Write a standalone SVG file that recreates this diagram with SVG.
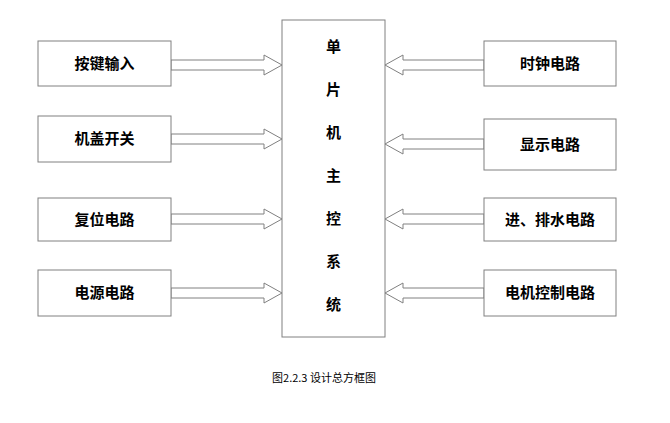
<svg xmlns="http://www.w3.org/2000/svg" width="670" height="423" viewBox="0 0 670 423">
<style>
.b{fill:#fff;stroke:#808080;stroke-width:1}
.t{font-family:"Noto Sans CJK SC",sans-serif;font-size:15px;fill:#000;text-anchor:middle;font-weight:bold}
.a{fill:#fff;stroke:#808080;stroke-width:1}
</style>
<rect width="670" height="423" fill="#fff"/>
<g id="connectors">
<path class="a" d="M171,60 H264 V55 L282,65 L264,75 V70 H171 Z"/>
<path class="a" d="M171,134 H264 V129 L282,139 L264,149 V144 H171 Z"/>
<path class="a" d="M171,214 H264 V209 L282,219 L264,229 V224 H171 Z"/>
<path class="a" d="M171,288 H264 V283 L282,293 L264,303 V298 H171 Z"/>
<path class="a" d="M484,60 H403 V55 L385,65 L403,75 V70 H484 Z"/>
<path class="a" d="M484,139 H403 V134 L385,144 L403,154 V149 H484 Z"/>
<path class="a" d="M484,214 H403 V209 L385,219 L403,229 V224 H484 Z"/>
<path class="a" d="M484,288 H403 V283 L385,293 L403,303 V298 H484 Z"/>
</g>
<g id="main"><rect class="b" x="282" y="20" width="103" height="317"/>
<text class="t" x="333.500" y="52" font-size="17">单</text>
<text class="t" x="333.500" y="95" font-size="17">片</text>
<text class="t" x="333.500" y="138" font-size="17">机</text>
<text class="t" x="333.500" y="181" font-size="17">主</text>
<text class="t" x="333.500" y="224" font-size="17">控</text>
<text class="t" x="333.500" y="267" font-size="17">系</text>
<text class="t" x="333.500" y="310" font-size="17">统</text></g>
<g id="n1"><rect class="b" x="38" y="41" width="133" height="45"/><text class="t" x="104.500" y="69">按键输入</text></g>
<g id="n2"><rect class="b" x="38" y="116" width="133" height="46"/><text class="t" x="104.500" y="144">机盖开关</text></g>
<g id="n3"><rect class="b" x="38" y="198" width="133" height="43"/><text class="t" x="104.500" y="225">复位电路</text></g>
<g id="n4"><rect class="b" x="38" y="270" width="133" height="46"/><text class="t" x="104.500" y="298">电源电路</text></g>
<g id="n5"><rect class="b" x="484" y="41" width="132" height="45"/><text class="t" x="550" y="69">时钟电路</text></g>
<g id="n6"><rect class="b" x="484" y="119" width="132" height="51"/><text class="t" x="550" y="150">显示电路</text></g>
<g id="n7"><rect class="b" x="484" y="198" width="132" height="43"/><text class="t" x="550" y="225">进、排水电路</text></g>
<g id="n8"><rect class="b" x="484" y="270" width="132" height="46"/><text class="t" x="550" y="298">电机控制电路</text></g>
<text x="324" y="382" font-family="Noto Sans CJK SC,sans-serif" font-size="11" text-anchor="middle">图2.2.3 设计总方框图</text>
</svg>
